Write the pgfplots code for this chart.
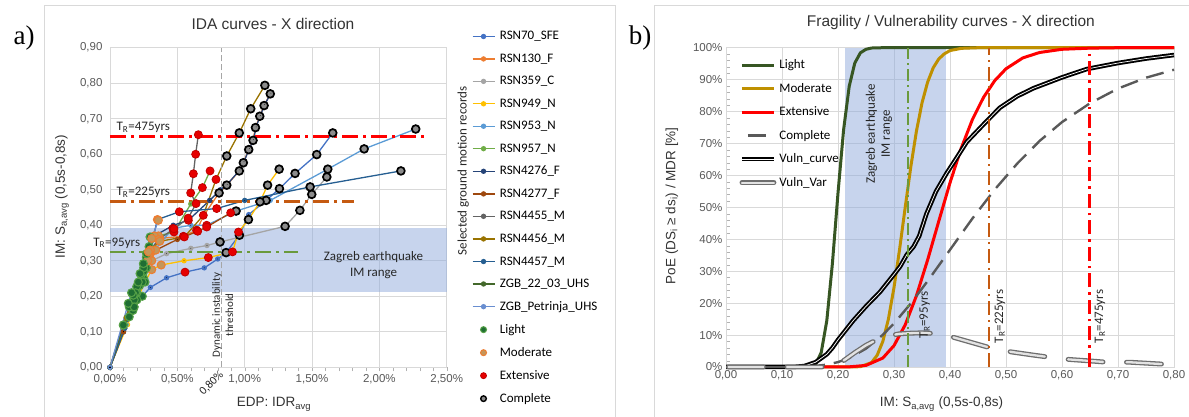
\documentclass[border=0pt]{standalone}
\usepackage{pgfplots}
\pgfplotsset{compat=1.18}
\usepackage{pgfplotstable}
\usepackage{fontspec}
\setmainfont{Liberation Sans}
\newfontfamily\cali{Carlito}
\newfontfamily\tnr{Liberation Serif}

\definecolor{c70}{HTML}{4472C4}
\definecolor{c130}{HTML}{ED7D31}
\definecolor{c359}{HTML}{A5A5A5}
\definecolor{c949}{HTML}{FFC000}
\definecolor{c953}{HTML}{5B9BD5}
\definecolor{c957}{HTML}{70AD47}
\definecolor{c4276}{HTML}{264478}
\definecolor{c4277}{HTML}{9E480E}
\definecolor{c4455}{HTML}{636363}
\definecolor{c4456}{HTML}{997300}
\definecolor{c4457}{HTML}{255E91}
\definecolor{c22}{HTML}{43682B}
\definecolor{cPet}{HTML}{698ED0}
\definecolor{bandblue}{HTML}{8FAADC}
\definecolor{gridc}{HTML}{D9D9D9}
\definecolor{tickc}{HTML}{595959}
\definecolor{trred}{HTML}{FF0000}
\definecolor{trorange}{HTML}{C55A11}
\definecolor{trgreen}{HTML}{6A9A3C}
\definecolor{fLight}{HTML}{375623}
\definecolor{fMod}{HTML}{BF9000}
\definecolor{fComp}{HTML}{595959}
\definecolor{dsLf}{HTML}{1F6E33}
\definecolor{dsLd}{HTML}{55A046}
\definecolor{dsMf}{HTML}{C4965A}
\definecolor{dsMd}{HTML}{ED7D31}
\definecolor{dsEf}{HTML}{E60000}
\definecolor{dsEd}{HTML}{C00000}
\definecolor{dsCf}{HTML}{8C8C8C}
\definecolor{varout}{HTML}{6E6E6E}

\pgfplotsset{
  idaline/.style={draw=#1, line width=1.3pt, mark=*, mark size=2pt, mark options={solid, fill=#1, draw=#1}},
  dsmarks/.style={scatter, only marks, forget plot, scatter src=explicit symbolic,
    scatter/classes={
      L={mark=*, mark size=4pt, fill=dsLf, draw=dsLd, line width=1.1pt},
      M={mark=*, mark size=4pt, fill=dsMf, draw=dsMd, line width=1.1pt},
      E={mark=*, mark size=4pt, fill=dsEf, draw=dsEd, line width=0.8pt},
      C={mark=*, mark size=3.9pt, fill=dsCf, draw=black, line width=1.7pt},
      N={mark=*, mark size=0.1pt, draw=none, fill=none}}},
  compleg/.style={legend image code/.code={\draw[##1,solid] (6pt,0pt) -- (24pt,0pt);}},
}

\begin{document}
\pgfplotstableread{
x y ds
0 0 N
0.10 0.10 N
0.17 0.16 L
0.24 0.20 L
0.30 0.225 N
0.42 0.252 N
0.557 0.268 E
0.70 0.28 N
0.80 0.305 N
0.862 0.323 C
0.961 0.372 C
1.03 0.43 N
1.159 0.47 C
1.258 0.503 C
1.374 0.546 C
1.535 0.599 C
1.654 0.66 C
}\tA
\pgfplotstableread{
x y ds
0 0 N
0.10 0.11 N
0.18 0.19 L
0.24 0.26 L
0.30 0.32 M
0.37 0.363 M
0.545 0.369 E
0.643 0.386 E
0.70 0.43 N
0.81 0.491 C
0.867 0.513 C
0.96 0.553 C
0.99 0.576 C
1.03 0.613 C
1.062 0.639 C
1.08 0.675 C
1.112 0.707 C
1.144 0.737 C
1.19 0.77 C
}\tB
\pgfplotstableread{
x y ds
0 0 N
0.11 0.11 N
0.19 0.19 L
0.25 0.25 L
0.31 0.30 M
0.42 0.32 N
0.60 0.335 N
0.72 0.343 N
0.817 0.353 C
1.30 0.397 C
1.41 0.442 C
1.498 0.487 C
1.61 0.536 C
}\tC
\pgfplotstableread{
x y ds
0 0 N
0.13 0.12 N
0.20 0.19 L
0.26 0.24 L
0.31 0.275 M
0.38 0.288 M
0.55 0.30 N
0.73 0.309 E
0.91 0.325 E
0.954 0.381 E
1.028 0.416 C
1.114 0.466 C
1.17 0.513 C
1.256 0.558 C
}\tD
\pgfplotstableread{
x y ds
0 0 N
0.12 0.12 N
0.20 0.21 L
0.27 0.28 L
0.33 0.33 M
0.466 0.391 E
0.60 0.40 N
0.718 0.40 E
0.936 0.44 C
1.19 0.47 N
1.617 0.558 C
1.887 0.615 C
2.27 0.671 C
}\tE
\pgfplotstableread{
x y ds
0 0 N
0.10 0.11 N
0.17 0.18 L
0.23 0.26 L
0.29 0.34 L
0.36 0.37 M
0.475 0.381 E
0.60 0.46 N
0.686 0.506 E
0.743 0.553 E
}\tF
\pgfplotstableread{
x y ds
0 0 N
0.10 0.10 N
0.17 0.17 L
0.22 0.23 L
0.27 0.31 L
0.33 0.37 M
0.47 0.40 N
0.582 0.414 E
0.74 0.47 N
0.82 0.50 N
0.87 0.515 N
0.965 0.556 N
0.995 0.579 N
1.035 0.616 N
1.066 0.641 N
1.085 0.677 N
1.116 0.709 N
1.149 0.74 N
1.195 0.772 N
}\tG
\pgfplotstableread{
x y ds
0 0 N
0.10 0.10 N
0.18 0.19 L
0.25 0.27 L
0.29 0.32 M
0.34 0.33 M
0.50 0.36 N
0.651 0.383 E
0.718 0.395 E
0.896 0.435 E
}\tH
\pgfplotstableread{
x y ds
0 0 N
0.099 0.119 L
0.143 0.17 L
0.198 0.227 L
0.25 0.29 L
0.30 0.33 M
0.36 0.36 M
0.475 0.39 E
0.58 0.42 E
0.639 0.461 E
0.599 0.491 E
0.619 0.545 E
0.636 0.60 E
0.656 0.655 E
}\tI
\pgfplotstableread{
x y ds
0 0 N
0.12 0.14 N
0.19 0.21 L
0.25 0.28 L
0.30 0.33 M
0.37 0.355 M
0.552 0.367 E
0.693 0.428 E
0.787 0.529 E
0.867 0.595 C
0.96 0.66 C
1.045 0.728 C
1.15 0.794 C
}\tJ
\pgfplotstableread{
x y ds
0 0 N
0.11 0.11 N
0.18 0.17 L
0.24 0.24 L
0.28 0.30 M
0.352 0.416 M
0.515 0.438 E
0.792 0.447 E
1.0 0.47 N
1.486 0.508 C
2.16 0.553 C
}\tK
\pgfplotstableread{
x y ds
0 0 N
0.099 0.119 L
0.143 0.142 L
0.173 0.203 L
0.223 0.264 L
0.272 0.32 L
0.297 0.367 L
}\tL
\pgfplotstableread{
x y ds
0 0 N
0.136 0.18 L
0.16 0.21 L
0.21 0.24 L
0.248 0.292 L
0.285 0.325 M
0.31 0.363 M
0.359 0.414 M
}\tM

\begin{tikzpicture}[x=1pt,y=1pt]
\path[use as bounding box] (0,0) rectangle (1189,417);
\draw[gridc, line width=1pt] (44,0) -- (44,411) -- (615.7,411) -- (615.7,0);
\draw[gridc, line width=1pt] (654,0) -- (654,411) -- (1189,411);
\node[font=\tnr\fontsize{27}{30}\selectfont] at (24,379) {a)};
\node[font=\tnr\fontsize{27}{30}\selectfont] at (640,379) {b)};

% ---------------- Left: IDA curves ----------------
\begin{axis}[
  at={(110pt,49.7pt)}, anchor=south west, scale only axis,
  width=336.7pt, height=319.6pt, clip=false,
  xmin=0, xmax=2.5, ymin=0, ymax=0.9,
  xtick={0,0.5,1,1.5,2,2.5},
  xticklabels={{0,00\%},{0,50\%},{1,00\%},{1,50\%},{2,00\%},{2,50\%}},
  ytick={0,0.1,0.2,0.3,0.4,0.5,0.6,0.7,0.8,0.9},
  yticklabels={{0,00},{0,10},{0,20},{0,30},{0,40},{0,50},{0,60},{0,70},{0,80},{0,90}},
  minor x tick num=4,
  grid=major, major grid style={draw=gridc, line width=0.8pt},
  axis line style={draw=gridc, line width=0.8pt},
  tick pos=left, tick align=outside,
  major tick length=4pt, minor tick length=4pt,
  ytick style={draw=none}, xtick style={draw=gray!60},
  minor x tick style={draw=gray!60},
  tick label style={font=\fontsize{11.5}{13}\selectfont, text=tickc},
  title={IDA curves - X direction},
  title style={at={(axis description cs:0.484,1.055)}, anchor=center, font=\fontsize{15.5}{17}\selectfont, text=black!80},
  xlabel={EDP: IDR\textsubscript{avg}},
  xlabel style={at={(axis description cs:0.487,-0.116)}, anchor=center, font=\fontsize{13.5}{16}\selectfont, text=black!80},
  ylabel={IM: S\textsubscript{a,avg} (0,5s-0,8s)},
  ylabel style={at={(axis description cs:-0.1426,0.534)}, anchor=center, font=\fontsize{13.5}{16}\selectfont, text=black!80},
  legend cell align=left,
  legend style={at={(axis description cs:1.0742,1.0575)}, anchor=north west, draw=none, fill=none,
    inner sep=0pt, font=\cali\fontsize{13}{15}\selectfont, row sep=8.5pt, column sep=2.7pt},
  legend image code/.code={\draw[mark repeat=2,mark phase=2,#1] plot coordinates {(0pt,0pt) (11pt,0pt) (22pt,0pt)};},
]
\addplot[draw=none, fill=bandblue, fill opacity=0.5, forget plot] coordinates {(0,0.213) (2.5,0.213) (2.5,0.391) (0,0.391)};

\addplot[idaline=c70] table[x=x,y=y] {\tA}; \addlegendentry{RSN70\_SFE}
\addplot[idaline=c130] table[x=x,y=y] {\tB}; \addlegendentry{RSN130\_F}
\addplot[idaline=c359] table[x=x,y=y] {\tC}; \addlegendentry{RSN359\_C}
\addplot[idaline=c949] table[x=x,y=y] {\tD}; \addlegendentry{RSN949\_N}
\addplot[idaline=c953] table[x=x,y=y] {\tE}; \addlegendentry{RSN953\_N}
\addplot[idaline=c957] table[x=x,y=y] {\tF}; \addlegendentry{RSN957\_N}
\addplot[idaline=c4276] table[x=x,y=y] {\tG}; \addlegendentry{RSN4276\_F}
\addplot[idaline=c4277] table[x=x,y=y] {\tH}; \addlegendentry{RSN4277\_F}
\addplot[idaline=c4455] table[x=x,y=y] {\tI}; \addlegendentry{RSN4455\_M}
\addplot[idaline=c4456] table[x=x,y=y] {\tJ}; \addlegendentry{RSN4456\_M}
\addplot[idaline=c4457] table[x=x,y=y] {\tK}; \addlegendentry{RSN4457\_M}
\addplot[idaline=c22] table[x=x,y=y] {\tL}; \addlegendentry{ZGB\_22\_03\_UHS}
\addplot[idaline=cPet] table[x=x,y=y] {\tM}; \addlegendentry{ZGB\_Petrinja\_UHS}

\addlegendimage{only marks, mark=*, mark size=3pt, mark options={fill=dsLf, draw=dsLd, line width=1pt}}
\addlegendentry{Light}
\addlegendimage{only marks, mark=*, mark size=3pt, mark options={fill=dsMf, draw=dsMd, line width=1pt}}
\addlegendentry{Moderate}
\addlegendimage{only marks, mark=*, mark size=3pt, mark options={fill=dsEf, draw=dsEd, line width=0.8pt}}
\addlegendentry{Extensive}
\addlegendimage{only marks, mark=*, mark size=2.8pt, mark options={fill=dsCf, draw=black, line width=1.4pt}}
\addlegendentry{Complete}

\addplot[trred, line width=2.4pt, dash pattern=on 16pt off 5pt on 3pt off 5pt, forget plot] coordinates {(0,0.65) (2.35,0.65)};
\addplot[trorange, line width=2.4pt, dash pattern=on 16pt off 5pt on 3pt off 5pt, forget plot] coordinates {(0,0.467) (1.81,0.467)};
\addplot[trgreen, line width=2.4pt, dash pattern=on 16pt off 5pt on 3pt off 5pt, forget plot] coordinates {(0,0.325) (1.395,0.325)};
\addplot[gray!70, line width=0.9pt, dash pattern=on 6pt off 3pt, forget plot] coordinates {(0.83,0) (0.83,0.9)};

\addplot[dsmarks] table[x=x,y=y,meta=ds] {\tA};
\addplot[dsmarks] table[x=x,y=y,meta=ds] {\tB};
\addplot[dsmarks] table[x=x,y=y,meta=ds] {\tC};
\addplot[dsmarks] table[x=x,y=y,meta=ds] {\tD};
\addplot[dsmarks] table[x=x,y=y,meta=ds] {\tE};
\addplot[dsmarks] table[x=x,y=y,meta=ds] {\tF};
\addplot[dsmarks] table[x=x,y=y,meta=ds] {\tG};
\addplot[dsmarks] table[x=x,y=y,meta=ds] {\tH};
\addplot[dsmarks] table[x=x,y=y,meta=ds] {\tI};
\addplot[dsmarks] table[x=x,y=y,meta=ds] {\tJ};
\addplot[dsmarks] table[x=x,y=y,meta=ds] {\tK};
\addplot[dsmarks] table[x=x,y=y,meta=ds] {\tL};
\addplot[dsmarks] table[x=x,y=y,meta=ds] {\tM};

\node[font=\cali\fontsize{13}{15}\selectfont, text=black!85] at (axis cs:0.247,0.676) {T\textsubscript{R}=475yrs};
\node[font=\cali\fontsize{13}{15}\selectfont, text=black!85] at (axis cs:0.247,0.4916) {T\textsubscript{R}=225yrs};
\node[font=\cali\fontsize{13}{15}\selectfont, text=black!85] at (axis cs:0.05,0.35) {T\textsubscript{R}=95yrs};
\node[align=center, font=\cali\fontsize{13}{16.7}\selectfont, text=black!85] at (axis cs:1.957,0.288) {Zagreb earthquake\\IM range};
\node[rotate=90, align=center, font=\cali\fontsize{11}{13.3}\selectfont, text=black!85] at (axis cs:0.837,0.147) {Dynamic instability\\threshold};
\node[rotate=45, anchor=east, font=\cali\fontsize{11.5}{13}\selectfont, text=black!85, inner sep=1pt] at (axis cs:0.835,-0.014) {0,80\%};
\node[rotate=90, font=\cali\fontsize{13}{15}\selectfont, text=black!85] at (axis description cs:1.0493,0.6148) {Selected ground motion records};
\end{axis}

% ---------------- Right: Fragility / Vulnerability ----------------
\begin{axis}[
  at={(726pt,50pt)}, anchor=south west, scale only axis,
  width=448pt, height=319.3pt, clip=false,
  xmin=0, xmax=0.8, ymin=0, ymax=1,
  xtick={0,0.1,0.2,0.3,0.4,0.5,0.6,0.7,0.8},
  xticklabels={{0,00},{0,10},{0,20},{0,30},{0,40},{0,50},{0,60},{0,70},{0,80}},
  ytick={0,0.1,0.2,0.3,0.4,0.5,0.6,0.7,0.8,0.9,1},
  yticklabels={{0\%},{10\%},{20\%},{30\%},{40\%},{50\%},{60\%},{70\%},{80\%},{90\%},{100\%}},
  minor y tick num=4,
  grid=major, major grid style={draw=gridc, line width=0.8pt},
  axis line style={draw=gridc, line width=0.8pt},
  tick pos=left, tick align=inside,
  major tick length=0pt, minor tick length=4pt,
  xtick style={draw=none}, minor y tick style={draw=gray!60},
  tick label style={font=\fontsize{11.5}{13}\selectfont, text=tickc},
  title={Fragility / Vulnerability curves - X direction},
  title style={at={(axis description cs:0.502,1.0586)}, anchor=center, font=\fontsize{15.5}{17}\selectfont, text=black!80},
  xlabel={IM: S\textsubscript{a,avg} (0,5s-0,8s)},
  xlabel style={at={(axis description cs:0.481,-0.116)}, anchor=center, font=\fontsize{13.5}{16}\selectfont, text=black!80},
  ylabel={PoE (DS\textsubscript{i} ≥ ds\textsubscript{i}) / MDR [\%]},
  ylabel style={at={(axis description cs:-0.121,0.505)}, anchor=center, font=\fontsize{13.5}{16}\selectfont, text=black!80},
  legend cell align=left,
  legend style={at={(axis description cs:0.0297,0.9687)}, anchor=north west, draw=none, fill=none,
    inner sep=0pt, font=\cali\fontsize{13}{15}\selectfont, row sep=9pt, column sep=1pt},
  legend image code/.code={\draw[#1,solid] (0pt,0pt) -- (32pt,0pt);},
]
\addplot[draw=none, fill=bandblue, fill opacity=0.5, forget plot] coordinates {(0.2125,0) (0.393,0) (0.393,1) (0.2125,1)};

\addplot[fLight, line width=3pt] coordinates {(0,0) (0.12,0) (0.14,0.0001) (0.15,0.001) (0.16,0.009) (0.17,0.045) (0.18,0.145) (0.19,0.324) (0.20,0.545) (0.21,0.743) (0.22,0.879) (0.23,0.952) (0.24,0.984) (0.25,0.995) (0.26,0.999) (0.28,1) (0.8,1)};
\addlegendentry{Light}
\addplot[fMod, line width=3pt] coordinates {(0,0) (0.22,0) (0.24,0.001) (0.26,0.014) (0.27,0.037) (0.28,0.080) (0.29,0.150) (0.30,0.249) (0.31,0.369) (0.32,0.5) (0.33,0.627) (0.34,0.738) (0.35,0.827) (0.36,0.892) (0.37,0.937) (0.38,0.965) (0.39,0.981) (0.40,0.991) (0.42,0.998) (0.45,1) (0.8,1)};
\addlegendentry{Moderate}
\addplot[trred, line width=3pt] coordinates {(0,0) (0.2,0) (0.22,0.0005) (0.25,0.005) (0.28,0.028) (0.30,0.067) (0.32,0.132) (0.34,0.223) (0.36,0.335) (0.38,0.457) (0.40,0.577) (0.42,0.685) (0.44,0.775) (0.46,0.845) (0.48,0.897) (0.50,0.934) (0.53,0.968) (0.56,0.985) (0.60,0.995) (0.65,0.9986) (0.70,1) (0.8,1)};
\addlegendentry{Extensive}
\addplot[fComp, line width=2.4pt, dash pattern=on 18pt off 9pt, compleg] coordinates {(0,0) (0.1,0) (0.15,0.0018) (0.18,0.0073) (0.20,0.0153) (0.22,0.028) (0.25,0.0575) (0.28,0.1007) (0.30,0.1365) (0.33,0.199) (0.36,0.269) (0.40,0.367) (0.44,0.465) (0.48,0.556) (0.52,0.637) (0.56,0.708) (0.60,0.767) (0.65,0.826) (0.70,0.872) (0.75,0.906) (0.80,0.931)};
\addlegendentry{Complete}
\addplot[black, line width=1.9pt, double=white, double distance=0.7pt, line join=round] coordinates {(0,0) (0.12,0) (0.14,0.003) (0.16,0.015) (0.18,0.04) (0.19,0.06) (0.20,0.085) (0.227,0.145) (0.25,0.19) (0.275,0.235) (0.30,0.29) (0.311,0.315) (0.323,0.352) (0.335,0.377) (0.345,0.41) (0.358,0.48) (0.375,0.55) (0.394,0.607) (0.41,0.65) (0.43,0.705) (0.46,0.76) (0.489,0.812) (0.52,0.848) (0.549,0.873) (0.60,0.907) (0.644,0.933) (0.70,0.952) (0.75,0.966) (0.80,0.977)};
\addlegendentry{Vuln\_curve}
\addplot[varout, line width=1.3pt, double=gray!22, double distance=2.3pt, line cap=round, line join=round, dash pattern=on 35pt off 23.5pt, dash phase=56pt] coordinates {(0,0) (0.19,0) (0.20,0.01) (0.21,0.02) (0.23,0.045) (0.25,0.068) (0.27,0.086) (0.29,0.098) (0.31,0.104) (0.33,0.106) (0.35,0.107) (0.37,0.105) (0.40,0.096) (0.43,0.081) (0.47,0.061) (0.51,0.047) (0.55,0.037) (0.58,0.03) (0.61,0.024) (0.65,0.019) (0.68,0.015) (0.72,0.015) (0.76,0.011) (0.80,0.007)};
\addlegendentry{Vuln\_Var}

\addplot[trgreen, line width=2.2pt, dash pattern=on 12pt off 4pt on 2pt off 4pt, forget plot] coordinates {(0.325,0) (0.325,1)};
\addplot[trorange, line width=1.8pt, dash pattern=on 14pt off 5pt on 2pt off 5pt, forget plot] coordinates {(0.47,0) (0.47,1)};
\addplot[trred, line width=2.6pt, dash pattern=on 14pt off 5pt on 2.5pt off 5pt, forget plot] coordinates {(0.649,0) (0.649,1)};

\node[rotate=90, align=center, font=\cali\fontsize{13}{15}\selectfont, text=black!85] at (axis cs:0.273,0.73) {Zagreb earthquake\\IM range};
\node[rotate=90, font=\cali\fontsize{13}{15}\selectfont, text=black!85] at (axis cs:0.355,0.163) {T\textsubscript{R}=95yrs};
\node[rotate=90, font=\cali\fontsize{13}{15}\selectfont, text=black!85] at (axis cs:0.489,0.158) {T\textsubscript{R}=225yrs};
\node[rotate=90, font=\cali\fontsize{13}{15}\selectfont, text=black!85] at (axis cs:0.668,0.158) {T\textsubscript{R}=475yrs};
\end{axis}
\end{tikzpicture}
\end{document}
